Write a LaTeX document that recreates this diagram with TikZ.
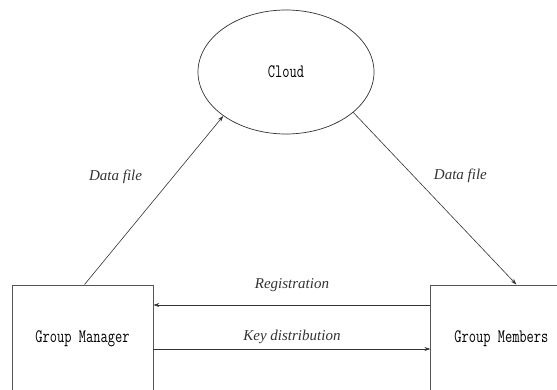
\documentclass[tikz,border=0pt]{standalone}
\usepackage{fontspec}
\setmainfont{Liberation Serif}
\setmonofont{Latin Modern Mono}[FakeStretch=0.74]
\usetikzlibrary{positioning, arrows.meta, shapes.geometric}
\definecolor{lineGrey}{HTML}{333333}
\definecolor{boxGrey}{HTML}{555555}

\begin{document}
\begin{tikzpicture}[x=1pt, y=1pt,
    font=\ttfamily\fontsize{19}{21}\selectfont,
    box/.style={draw=boxGrey, line width=0.9pt, minimum width=141pt,
                minimum height=108pt, inner sep=0pt},
    flow/.style={-{Stealth[length=6pt, width=4pt]}, lineGrey, line width=0.6pt},
    lbl/.style={font=\itshape\fontsize{15}{17}\selectfont, inner sep=0pt}]
    \useasboundingbox (0,0) rectangle (557,389);
    \node[draw=lineGrey, line width=0.7pt, ellipse, minimum width=176pt,
          minimum height=124pt, inner sep=0pt] (cloud) at (286,317) {Cloud};
    \node[box] (manager) at (82.5,50) {Group Manager};
    \node[box, right=277pt of manager] (members) {Group Members};
    \draw[flow] ([yshift=34pt]members.west)
      -- node[lbl, above=13pt] {Registration}
      ([yshift=34pt]manager.east);
    \draw[flow] ([yshift=-10pt]manager.east)
      -- node[lbl, above=5pt] {Key distribution}
      ([yshift=-10pt]members.west);
    \draw[flow] ([xshift=2pt]manager.north)
      -- node[lbl, pos=0.64, left=31pt] {Data file}
      (cloud.215);
    \draw[flow] (cloud.329)
      -- node[lbl, pos=0.37, right=20pt] {Data file}
      ([xshift=15pt]members.north);
  \end{tikzpicture}
\end{document}
